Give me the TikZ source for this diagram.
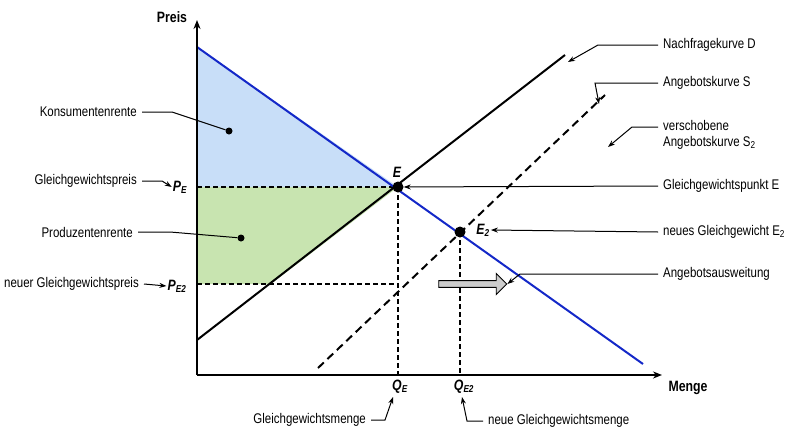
\documentclass[tikz,border=0pt]{standalone}
\usepackage{fontspec}
\setmainfont[FakeStretch=0.82]{Liberation Sans}
\usetikzlibrary{arrows.meta,shapes.arrows}
\definecolor{demandblue}{RGB}{20,40,200}
\definecolor{kfill}{RGB}{200,222,248}
\definecolor{pfill}{RGB}{200,228,176}
\tikzset{
  lbl/.style={font=\fontsize{14}{16}\selectfont,inner sep=1pt},
  sym/.style={font=\fontsize{15}{17}\selectfont\bfseries\itshape,inner sep=1pt},
  lead/.style={line width=1pt},
  point/.style={lead,-{Stealth[length=7pt,width=5pt]}},
  dot/.style={circle,fill=black,inner sep=0pt,minimum size=#1},
  guide/.style={line width=1.1pt,dash pattern=on 5pt off 3pt}
}
\newcommand{\sub}[1]{\textsubscript{\fontsize{10}{10}\selectfont #1}}
\begin{document}
\begin{tikzpicture}[x=1pt,y=-1pt]
        \useasboundingbox (0,0) rectangle (800,439);

        % areas
        \fill[kfill] (197,47) -- (398,187) -- (197,187) -- cycle;
        \fill[pfill] (197,187) -- (398,187) -- (271,284) -- (197,284) -- cycle;

        \coordinate (O) at (197,375);
        \coordinate (E) at (398,187);
        \coordinate (E2) at (460,232);

        % guides
        \draw[guide] (197,187) -- (E);
        \draw[guide] (197,284) -- (398,284);
        \draw[guide] (E) -- (398,375);
        \draw[guide] (E2) -- (460,375);

        % curves
        \draw[demandblue,line width=2pt] (197,47) -- (643,364);
        \draw[line width=2pt] (197,340) -- (565,55);
        \draw[line width=2pt,dash pattern=on 8pt off 5pt] (318,368) -- (605,95);

        % axes
        \draw[line width=1.8pt,-{Stealth[length=9pt,width=7pt]}] (O) -- (197,20);
        \draw[line width=1.8pt,-{Stealth[length=9pt,width=7pt]}] (O) -- (662,375);
        \node[lbl,font=\fontsize{15}{17}\selectfont\bfseries] (preis) at (172,17) {Preis};
        \node[lbl,font=\fontsize{15}{17}\selectfont\bfseries] (menge) at (688,388) {Menge};

        % points
        \node[dot=11pt] (pE) at (E) {};
        \node[dot=11pt] (pE2) at (E2) {};
        \node[sym] (tE) at (397,172) {E};
        \node[sym] (tE2) at (483,230) {E\sub{2}};
        \node[sym] (PE) at (180,187) {P\sub{E}};
        \node[sym] (PE2) at (177,286) {P\sub{E2}};
        \node[sym] (QE) at (400,387) {Q\sub{E}};
        \node[sym] (QE2) at (464,387) {Q\sub{E2}};
        \node[dot=7pt] (kdot) at (229,131) {};
        \node[dot=7pt] (pdot) at (241,238) {};

        % shift arrow
        \node[single arrow,draw,fill=black!20,line width=0.9pt,minimum width=21pt,
              single arrow head extend=3pt,minimum height=68pt,inner sep=1pt] (shift) at (471,284) {};

        % left labels
        \node[lbl,anchor=east] (konsum) at (138,112) {Konsumentenrente};
        \node[lbl,anchor=east] (gpreis) at (138,181) {Gleichgewichtspreis};
        \node[lbl,anchor=east] (prod) at (134,232) {Produzentenrente};
        \node[lbl,anchor=east] (npreis) at (140,284) {neuer Gleichgewichtspreis};
        \draw[lead] (konsum.east) ++(4,0) -- (172,112) -- (kdot);
        \draw[point] (gpreis.east) ++(4,0) -- (162,181) -- (PE.west);
        \draw[lead] (prod.east) ++(4,0) -- (170,232) -- (pdot);
        \draw[point] (npreis.east) ++(4,0) -- (PE2.west);

        % bottom labels
        \node[lbl,anchor=east] (gmenge) at (367,420) {Gleichgewichtsmenge};
        \node[lbl,anchor=west] (nmenge) at (487,421) {neue Gleichgewichtsmenge};
        \draw[point] (gmenge.east) ++(4,0) -- (385,420) -- (393,397);
        \draw[point] (nmenge.west) ++(-4,0) -- (467,421) -- (462,397);

        % right labels
        \node[lbl,anchor=west] (nachfrage) at (662,45) {Nachfragekurve D};
        \node[lbl,anchor=west] (angebot) at (662,83) {Angebotskurve S};
        \node[lbl,anchor=west,align=left] (versch) at (662,135) {verschobene\\Angebotskurve S\sub{2}};
        \node[lbl,anchor=west] (gpunkt) at (662,186) {Gleichgewichtspunkt E};
        \node[lbl,anchor=west] (ngew) at (662,232) {neues Gleichgewicht E\sub{2}};
        \node[lbl,anchor=west] (ausw) at (662,274) {Angebotsausweitung};
        \draw[point] (nachfrage.west) ++(-4,0) -- (598,45) -- (568,62);
        \draw[point] (angebot.west) ++(-4,0) -- (595,83) -- (599,104);
        \draw[point] (versch.west |- 0,127) ++(-4,0) -- (632,127) -- (608,147);
        \draw[point] (gpunkt.west) ++(-4,0) -- (pE);
        \draw[point] (ngew.west) ++(-4,0) -- (tE2.east);
        \draw[point] (ausw.west) ++(-4,0) -- (520,274) -- (shift.tip);
\end{tikzpicture}
\end{document}
